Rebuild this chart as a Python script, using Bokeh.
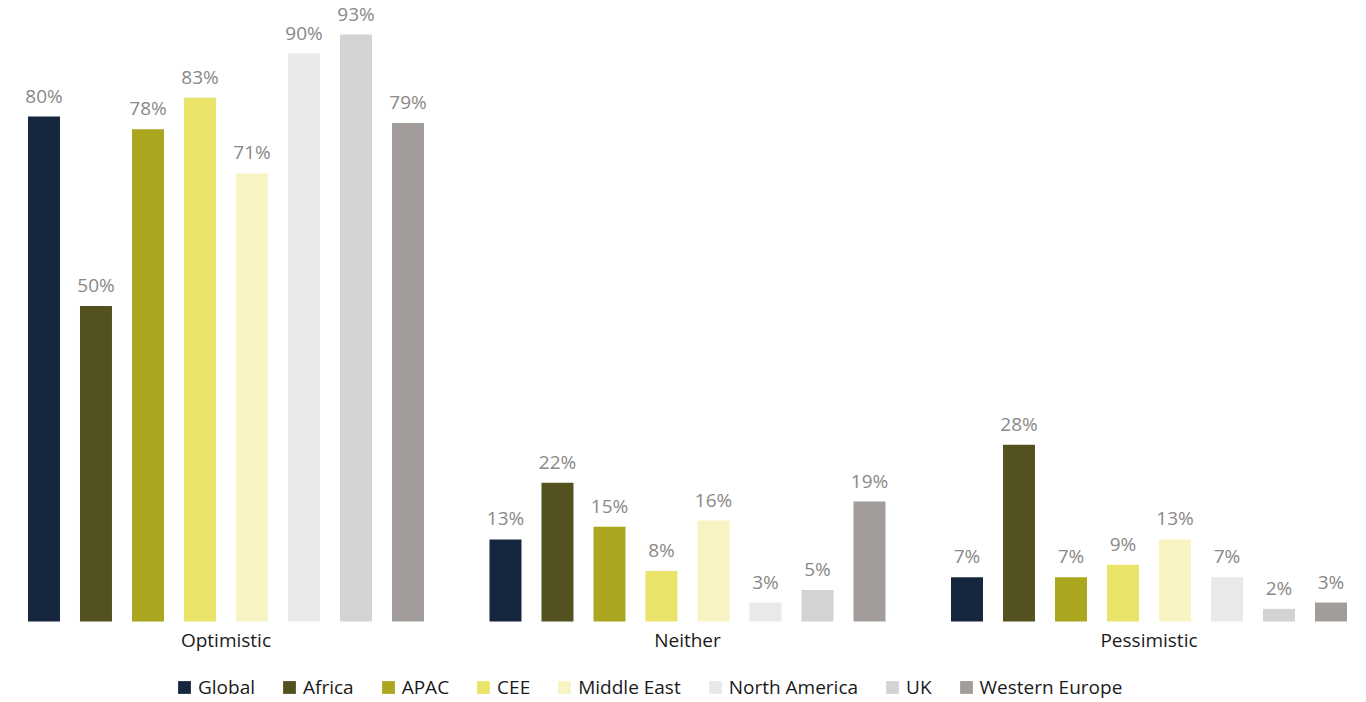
from bokeh.plotting import figure
from bokeh.models import ColumnDataSource, Range1d, LabelSet, Legend, LegendItem
from bokeh.core.properties import value
from bokeh.transform import dodge
from bokeh.embed import file_html
from bokeh.resources import INLINE

categories = ["Optimistic", "Neither", "Pessimistic"]
regions = ["Global", "Africa", "APAC", "CEE", "Middle East", "North America", "UK", "Western Europe"]
global_vals = [80, 13, 7]
africa_vals = [50, 22, 28]
apac_vals = [78, 15, 7]
cee_vals = [83, 8, 9]
middle_east_vals = [71, 16, 13]
north_america_vals = [90, 3, 7]
uk_vals = [93, 5, 2]
western_europe_vals = [79, 19, 3]
colors = ["#16263f", "#52511f", "#aaa71f", "#ebe46a", "#f7f3c2", "#e9e9e9", "#d4d2d3", "#a29d9a"]

series = [global_vals, africa_vals, apac_vals, cee_vals, middle_east_vals,
          north_america_vals, uk_vals, western_europe_vals]

FONT = "Open Sans"
FS = "19px"

data = {"x": list(range(len(categories))), "cat": categories, "zero": [0] * len(categories)}
for j, vals in enumerate(series):
    data[f"s{j}"] = vals
    data[f"l{j}"] = [f"{v}%" for v in vals]
source = ColumnDataSource(data)

p = figure(frame_width=1366, frame_height=700, output_backend="svg", toolbar_location=None,
           x_range=Range1d(-0.4886, 2.4713), y_range=Range1d(-12.52, 98.4),
           min_border_left=0, min_border_right=0, min_border_top=0, min_border_bottom=0)
p.outline_line_color = None
p.grid.grid_line_color = None
p.xaxis.visible = False
p.yaxis.visible = False

step = 0.11268
width = 0.0693
items = []
for j, name in enumerate(regions):
    off = (j - 3.5) * step
    r = p.vbar(x=dodge("x", off), top=f"s{j}", width=width, bottom=0, source=source,
               fill_color=colors[j], line_color=None)
    items.append(LegendItem(label=name, renderers=[r]))
    lbl = LabelSet(x=dodge("x", off), y=f"s{j}", text=f"l{j}", source=source,
                   text_align="center", text_baseline="alphabetic", y_offset=14,
                   text_font=value(FONT), text_font_size=value(FS), text_color="#8a8888")
    p.add_layout(lbl)

cat_labels = LabelSet(x="x", y="zero", text="cat", source=source,
                      text_align="center", text_baseline="alphabetic", y_offset=-26,
                      text_font=value(FONT), text_font_size=value(FS), text_color="#1a1a1a")
p.add_layout(cat_labels)

legend = Legend(items=items, orientation="horizontal", location=(176, 0),
                glyph_width=16, glyph_height=16, label_standoff=6, spacing=26,
                padding=0, margin=0, border_line_color=None, background_fill_alpha=0,
                label_text_font=FONT, label_text_font_size=FS, label_text_color="#1a1a1a")
p.add_layout(legend)

open("out.html", "w").write(file_html(p, INLINE))
